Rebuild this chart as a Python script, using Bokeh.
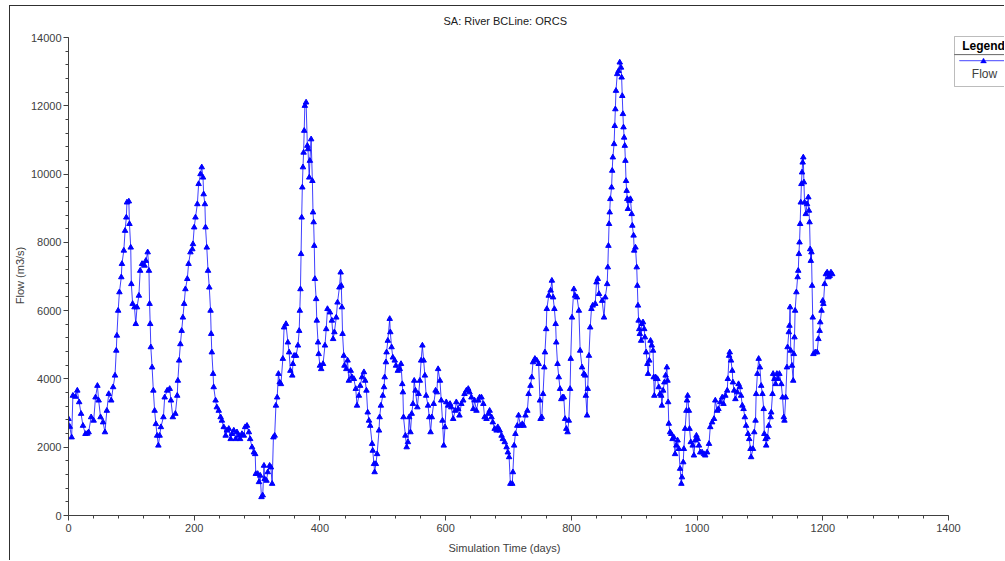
from bokeh.plotting import figure
from bokeh.models import (Label, BoxAnnotation, PolyAnnotation, FixedTicker, Range1d, Title)
from bokeh.embed import file_html
from bokeh.resources import INLINE

# ---- data ----
days = [0, 2, 5, 7, 11, 14, 17, 20, 23, 27, 30, 32, 36, 40, 43, 46, 48, 51, 55, 58,
        61, 64, 68, 71, 74, 76, 77, 79, 81, 84, 85, 88, 90, 92, 93, 96, 97, 99, 100, 102,
        105, 107, 109, 112, 114, 117, 121, 123, 126, 128, 129, 130, 131, 133, 135, 137, 139, 141, 143, 145,
        147, 151, 153, 157, 161, 163, 166, 170, 173, 174, 176, 178, 180, 182, 184, 186, 189, 191, 194, 197,
        198, 200, 202, 205, 207, 210, 212, 214, 215, 217, 218, 220, 222, 224, 226, 227, 228, 230, 231, 234,
        236, 239, 242, 244, 247, 250, 252, 255, 258, 260, 263, 266, 268, 271, 273, 276, 279, 281, 284, 287,
        289, 292, 295, 297, 298, 301, 303, 305, 307, 309, 311, 312, 315, 317, 320, 322, 324, 326, 328, 330,
        332, 334, 336, 338, 341, 343, 346, 349, 351, 353, 356, 357, 359, 362, 365, 367, 368, 369, 370, 371,
        372, 373, 374, 375, 376, 378, 380, 381, 383, 384, 386, 388, 389, 390, 391, 392, 394, 395, 397, 398,
        400, 402, 405, 408, 410, 412, 416, 419, 421, 423, 426, 428, 431, 433, 434, 435, 436, 438, 439, 442,
        444, 446, 449, 451, 454, 457, 459, 462, 464, 467, 470, 472, 474, 476, 478, 480, 483, 484, 486, 487,
        489, 491, 494, 495, 497, 500, 502, 503, 505, 506, 508, 511, 512, 514, 516, 519, 521, 524, 527, 529,
        531, 532, 533, 536, 538, 540, 542, 544, 546, 548, 550, 552, 555, 557, 559, 561, 563, 565, 567, 569,
        572, 574, 576, 578, 581, 584, 586, 588, 591, 593, 595, 597, 599, 601, 604, 607, 609, 612, 615, 617,
        620, 622, 625, 628, 630, 633, 636, 638, 641, 644, 646, 649, 652, 654, 657, 660, 662, 665, 668, 670,
        673, 675, 678, 681, 683, 686, 689, 691, 694, 697, 699, 701, 703, 706, 707, 709, 711, 714, 716, 719,
        722, 724, 727, 730, 732, 735, 737, 739, 742, 745, 748, 750, 751, 753, 755, 757, 758, 760, 761, 764,
        767, 769, 771, 773, 775, 776, 778, 780, 782, 784, 786, 788, 790, 792, 794, 796, 798, 799, 801, 804,
        806, 809, 812, 814, 817, 820, 822, 823, 825, 826, 828, 830, 832, 834, 838, 840, 842, 844, 849, 852,
        854, 857, 858, 859, 860, 861, 862, 864, 865, 866, 868, 869, 870, 871, 873, 875, 877, 879, 880, 881,
        882, 883, 884, 885, 886, 887, 888, 889, 890, 892, 894, 896, 897, 899, 900, 902, 904, 905, 906, 907,
        908, 909, 911, 912, 914, 916, 917, 919, 921, 922, 924, 926, 928, 930, 931, 932, 934, 935, 937, 939,
        941, 943, 944, 946, 948, 950, 952, 953, 954, 955, 957, 959, 961, 963, 965, 967, 969, 971, 973, 975,
        976, 978, 979, 981, 983, 984, 985, 987, 988, 990, 993, 995, 997, 999, 1001, 1003, 1005, 1008, 1011, 1013,
        1016, 1019, 1021, 1024, 1027, 1029, 1032, 1034, 1037, 1040, 1042, 1045, 1048, 1049, 1051, 1052, 1054, 1056, 1057, 1059,
        1061, 1064, 1066, 1068, 1070, 1072, 1074, 1076, 1078, 1081, 1083, 1085, 1086, 1089, 1091, 1093, 1094, 1096, 1098, 1100,
        1102, 1104, 1106, 1107, 1109, 1110, 1112, 1114, 1117, 1118, 1120, 1121, 1123, 1125, 1127, 1129, 1131, 1134, 1136, 1138,
        1139, 1141, 1143, 1144, 1146, 1147, 1148, 1149, 1151, 1153, 1154, 1155, 1156, 1158, 1160, 1161, 1162, 1163, 1164, 1165,
        1166, 1167, 1168, 1169, 1170, 1171, 1173, 1175, 1177, 1178, 1179, 1180, 1181, 1182, 1183, 1184, 1185, 1188, 1191, 1193,
        1195, 1196, 1198, 1200, 1201, 1203, 1205, 1207, 1209, 1211, 1213, 1215]

flow = [2830, 2600, 2290, 3510, 3480, 3660, 3320, 2980, 2630, 2390, 2400, 2440, 2880, 2780, 3460, 3800, 3370, 2880, 2730, 2440,
        3070, 3560, 3370, 3760, 4100, 4830, 5270, 6000, 6540, 6980, 7370, 7760, 8340, 8730, 9170, 9200, 8540, 7850, 6780, 6200,
        6100, 5610, 6100, 6440, 7170, 7370, 7320, 7460, 7710, 7170, 6200, 5610, 4930, 4340, 3660, 3070, 2680, 2340, 2050, 2340,
        2590, 2880, 3460, 3660, 3710, 3370, 2880, 2980, 3510, 3950, 4540, 5020, 5410, 5800, 6200, 6630, 6930, 7370, 7710, 7800,
        7950, 8440, 8730, 9120, 9710, 10000, 10200, 9900, 9410, 9120, 8440, 7850, 7170, 6680, 6000, 5320, 4780, 4150, 3760, 3370,
        3170, 3070, 2880, 2780, 2590, 2340, 2490, 2540, 2240, 2390, 2490, 2240, 2440, 2340, 2240, 2390, 2340, 2590, 2630, 2440,
        2240, 2000, 1850, 1800, 1220, 1220, 980, 1170, 540, 590, 1460, 1070, 1020, 1270, 1460, 1410, 930, 2290, 2340, 3220,
        3460, 4150, 3900, 3850, 4590, 5510, 5610, 5070, 4780, 4240, 4100, 4440, 4680, 4680, 4980, 5410, 6000, 6630, 7660, 8730,
        9610, 10200, 10630, 11270, 12000, 12100, 10830, 10730, 9900, 10390, 11020, 9800, 8880, 8590, 7900, 6930, 6340, 5710, 5070, 4730,
        4390, 4290, 4440, 4980, 5460, 6050, 5950, 5710, 5170, 5370, 5800, 6240, 6680, 7120, 6730, 6100, 5320, 4680, 4390, 4290,
        4540, 3950, 4240, 4050, 4000, 3710, 3220, 3510, 3800, 4050, 4200, 3950, 3660, 3020, 2780, 2630, 2100, 1900, 1510, 1270,
        1510, 1800, 2490, 2880, 3220, 3510, 3760, 4050, 4490, 4780, 5120, 5760, 5370, 4930, 4630, 4540, 4390, 4240, 4290, 4440,
        3850, 3610, 2880, 2340, 2000, 2150, 2880, 2440, 2980, 3270, 3950, 3660, 3170, 3560, 3950, 4540, 4980, 4540, 4100, 3510,
        3220, 2880, 2440, 2880, 3270, 3660, 3610, 4290, 3950, 3370, 2780, 2050, 2590, 3320, 3220, 3270, 3170, 2830, 3070, 3320,
        3120, 2930, 3270, 3370, 3560, 3660, 3710, 3610, 3460, 3120, 3370, 3070, 3370, 3460, 3460, 3270, 2880, 2830, 2980, 3070,
        2880, 2730, 2540, 2490, 2590, 2490, 2340, 2240, 2150, 2000, 1850, 1710, 930, 930, 1270, 2050, 2390, 2630, 2930, 2630,
        2680, 2630, 2930, 3070, 3560, 3800, 4050, 4490, 4590, 4540, 4440, 3370, 2830, 2880, 3560, 4340, 4780, 5460, 6050, 6440,
        6590, 6880, 6390, 6050, 5610, 5070, 4440, 4050, 3710, 3410, 3460, 3460, 2830, 2540, 2440, 2780, 3710, 4590, 5800, 6630,
        6440, 6390, 6000, 4830, 4340, 4150, 4100, 3510, 2930, 3710, 4680, 5510, 6050, 6150, 6200, 6830, 6930, 6490, 6290, 5800,
        6390, 6780, 7270, 7900, 8540, 8880, 9270, 9610, 10100, 10490, 10880, 11410, 11900, 12440, 12930, 13020, 13270, 13120, 12830, 12290,
        11760, 11370, 11070, 10830, 10390, 9800, 9510, 9270, 8980, 9220, 9270, 8830, 8490, 8200, 7760, 7850, 7270, 6730, 6150, 5710,
        5460, 5320, 5120, 5610, 5660, 5460, 5220, 4780, 4440, 4150, 4540, 5120, 4980, 4830, 4050, 3510, 4050, 4000, 4000, 3760,
        3560, 3510, 3220, 3660, 3900, 4100, 4340, 3950, 3320, 2690, 2440, 2390, 2240, 2290, 1800, 2050, 2200, 1950, 1370, 930,
        1120, 1560, 1950, 2540, 3070, 3370, 3510, 3070, 2540, 2150, 2050, 1760, 2200, 2340, 2240, 2050, 1850, 1850, 1800, 1760,
        1850, 2100, 2590, 2730, 2830, 3370, 3070, 3120, 3320, 3460, 3270, 3510, 3660, 4000, 4680, 4780, 4540, 4240, 3900, 3660,
        3410, 3610, 3850, 3760, 3510, 3220, 3120, 2880, 2630, 2390, 2240, 1950, 1710, 1950, 2440, 2780, 3560, 4150, 4590, 4340,
        3800, 3560, 3120, 2390, 2240, 2050, 2290, 2630, 2880, 3020, 3560, 4150, 4000, 3850, 4150, 4000, 4150, 3850, 3460, 2880,
        2780, 3460, 4340, 4930, 5370, 5560, 6100, 4830, 4390, 3950, 4730, 5220, 6000, 6540, 6980, 7170, 7660, 8000, 8540, 9170,
        9710, 10050, 10340, 10490, 9760, 9170, 8830, 9120, 9320, 8930, 8590, 7800, 7460, 7710, 6730, 5800, 4730, 4780, 4780, 5170,
        5410, 5660, 6000, 6290, 6200, 6780, 7070, 7120, 6980, 7020, 7120, 7070]

x_major = [0, 200, 400, 600, 800, 1000, 1200, 1400]
y_major = [0, 2000, 4000, 6000, 8000, 10000, 12000, 14000]

title_text = "SA: River BCLine: ORCS"
x_label = "Simulation Time (days)"
y_label = "Flow (m3/s)"
series_name = "Flow"

FONT = "Liberation Sans"
AXIS_COLOR = "#404040"

# canvas starts at page (10, 6) because of the CSS margin + 1px border of the outer frame
p = figure(width=995, height=555, output_backend="svg", toolbar_location=None,
           x_range=Range1d(0, 1490.7), y_range=Range1d(0, 14058.6),
           min_border_left=58, min_border_right=0, min_border_top=29, min_border_bottom=46,
           title=title_text)
p.styles = {"margin-left": "9px", "margin-top": "5px",
            "border-left": "1px solid #303030", "border-top": "1px solid #303030"}
p.outline_line_color = None
p.xgrid.visible = False
p.ygrid.visible = False
p.background_fill_color = "white"
p.border_fill_color = "white"

p.title.align = "left"
p.title.offset = 375
p.title.vertical_align = "top"
p.title.standoff = 13
p.title.text_font = FONT
p.title.text_font_size = "11px"
p.title.text_font_style = "normal"
p.title.text_color = "#202020"

p.xaxis.ticker = FixedTicker(ticks=x_major, minor_ticks=list(range(0, 1401, 40)))
p.yaxis.ticker = FixedTicker(ticks=y_major, minor_ticks=list(range(0, 14001, 400)))
p.xaxis.bounds = (0, 1400)
p.yaxis.bounds = (0, 14000)
p.yaxis.axis_label = y_label
for ax in (p.xaxis, p.yaxis):
    ax.axis_line_color = AXIS_COLOR
    ax.major_tick_line_color = AXIS_COLOR
    ax.minor_tick_line_color = AXIS_COLOR
    ax.major_tick_in = 0
    ax.minor_tick_in = 0
    ax.major_tick_out = 5
    ax.minor_tick_out = 3
    ax.major_label_text_font = FONT
    ax.major_label_text_font_size = "11px"
    ax.major_label_text_color = AXIS_COLOR
    ax.axis_label_text_font = FONT
    ax.axis_label_text_font_size = "11px"
    ax.axis_label_text_font_style = "normal"
    ax.axis_label_text_color = AXIS_COLOR
p.yaxis.major_label_standoff = 2
p.xaxis.major_label_standoff = 3
p.yaxis.axis_label_standoff = 2

# x-axis title, centred under the 0..1400 axis line (a below-panel title so it can be placed exactly)
xt = Title(text=x_label, align="left", offset=380, vertical_align="bottom", standoff=11,
           text_font=FONT, text_font_size="11px", text_font_style="normal", text_color=AXIS_COLOR)
p.add_layout(xt, "below")

p.line(days, flow, line_color="#0000ff", line_width=1, line_alpha=0.75)
p.scatter(days, flow, marker="triangle", size=5.5, fill_color="#0000ff", line_color="#0000ff")

# legend (canvas pixel units, inside the plot frame)
cu = dict(left_units="canvas", right_units="canvas", top_units="canvas", bottom_units="canvas")
p.add_layout(BoxAnnotation(left=943, right=1100, top=29, bottom=79, **cu,
                           fill_color="white", fill_alpha=1, line_color="#202020", line_width=1, level="overlay"))
p.add_layout(BoxAnnotation(left=943, right=1100, top=47, bottom=47.5, **cu,
                           fill_color="#202020", fill_alpha=1, line_color="#202020", line_width=0.5, level="overlay"))
p.add_layout(BoxAnnotation(left=948, right=1100, top=53, bottom=53.5, **cu,
                           fill_color="#0000ff", fill_alpha=0.6, line_color="#0000ff", line_alpha=0.6, line_width=0.5,
                           level="overlay"))
p.add_layout(PolyAnnotation(xs=[969, 972, 975], ys=[55.5, 50.5, 55.5], xs_units="canvas", ys_units="canvas",
                            fill_color="#0000ff", fill_alpha=1, line_color="#0000ff", level="overlay"))
p.add_layout(Label(x=972, y=38, x_units="canvas", y_units="canvas", text="Legend",
                   text_font=FONT, text_font_size="12px", text_font_style="bold", text_color="#000000",
                   text_align="center", text_baseline="middle", level="overlay"))
p.add_layout(Label(x=973, y=66, x_units="canvas", y_units="canvas", text=series_name,
                   text_font=FONT, text_font_size="12px", text_color=AXIS_COLOR,
                   text_align="center", text_baseline="middle", level="overlay"))

open("out.html", "w").write(file_html(p, INLINE))
